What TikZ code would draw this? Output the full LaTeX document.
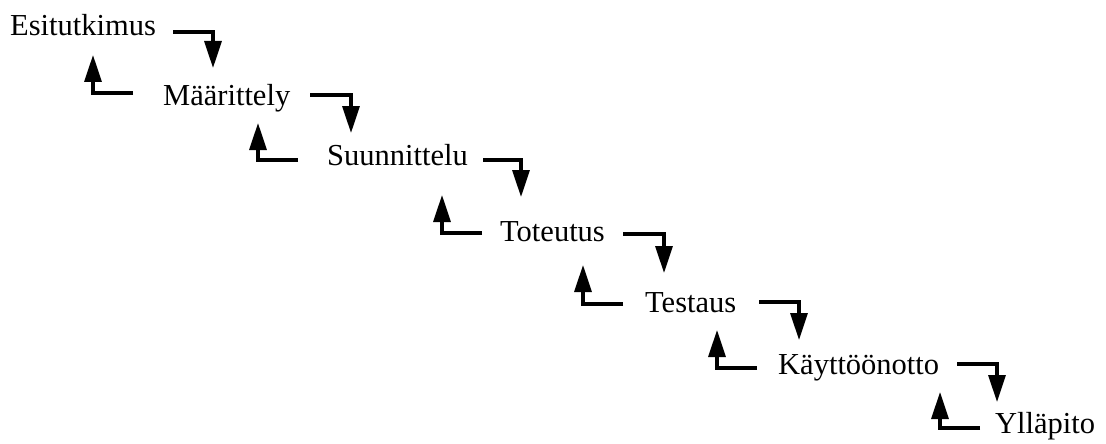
\documentclass[tikz,border=0pt]{standalone}
\usepackage{fontspec}
\setmainfont{Liberation Serif}
\usetikzlibrary{arrows.meta}
\begin{document}
\begin{tikzpicture}[x=1pt,y=-1pt,
  phase/.style={anchor=base west, inner sep=0pt, font=\fontsize{30.5}{36}\selectfont},
  flow/.style={line width=3.1pt, -{Triangle[length=27pt,width=17pt]}}]
\useasboundingbox (0,0) rectangle (1106,444);

% waterfall phases
\node[phase] (p1) at (10,36)   {Esitutkimus};
\node[phase] (p2) at (163,105) {Määrittely};
\node[phase] (p3) at (327,165) {Suunnittelu};
\node[phase] (p4) at (500,241) {Toteutus};
\node[phase] (p5) at (645,312) {Testaus};
\node[phase] (p6) at (778,374) {Käyttöönotto};
\node[phase] (p7) at (995,433) {Ylläpito};

% forward steps: start beside a phase, end above the next one
\coordinate (f1s) at (173,32);  \coordinate (f1t) at (213,68);
\coordinate (f2s) at (310,95);  \coordinate (f2t) at (351,133);
\coordinate (f3s) at (483,160); \coordinate (f3t) at (521,197);
\coordinate (f4s) at (623,234); \coordinate (f4t) at (664,273);
\coordinate (f5s) at (759,302); \coordinate (f5t) at (799,340);
\coordinate (f6s) at (957,364); \coordinate (f6t) at (997,402);

% backward steps: start beside a phase, end below the previous one
\coordinate (b1s) at (133,93);  \coordinate (b1t) at (93,55);
\coordinate (b2s) at (298,160); \coordinate (b2t) at (258,123);
\coordinate (b3s) at (482,233); \coordinate (b3t) at (442,195);
\coordinate (b4s) at (623,304); \coordinate (b4t) at (583,265);
\coordinate (b5s) at (757,368); \coordinate (b5t) at (717,330);
\coordinate (b6s) at (980,428); \coordinate (b6t) at (940,392);

\foreach \i in {1,...,6} {
  \draw[flow] (f\i s) -| (f\i t);
  \draw[flow] (b\i s) -| (b\i t);
}
\end{tikzpicture}
\end{document}
